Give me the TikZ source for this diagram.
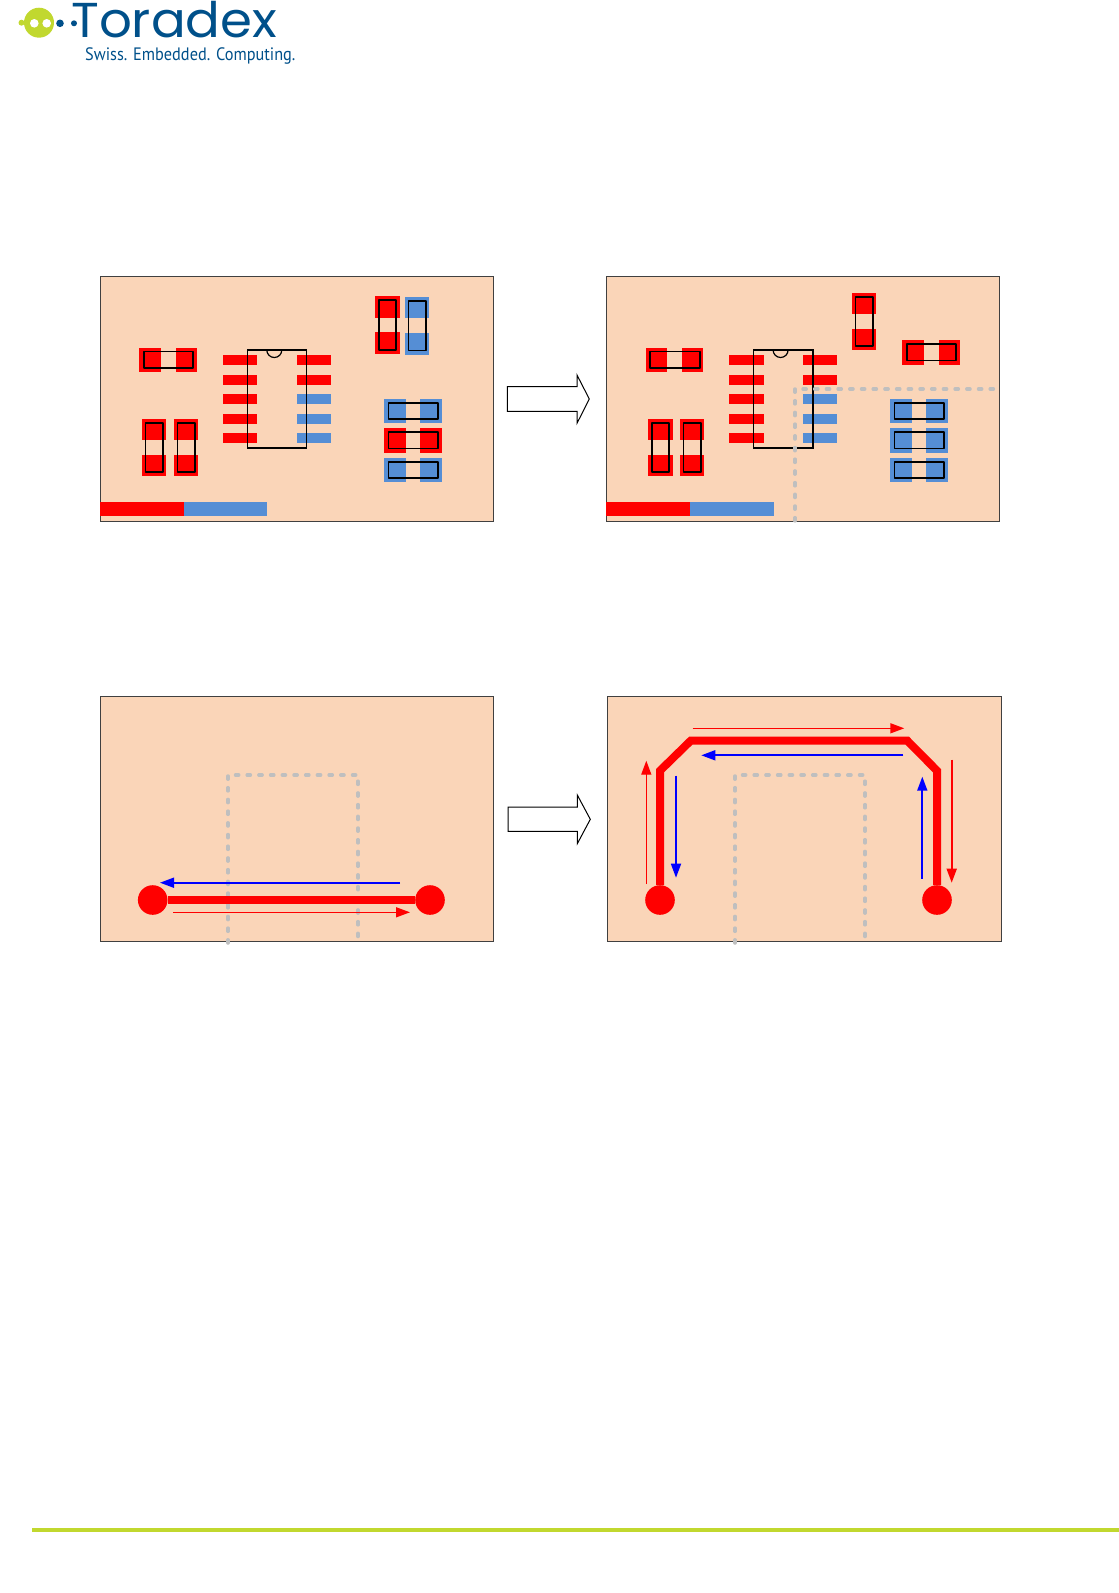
\documentclass[tikz,border=0pt]{standalone}
\usepackage{fontspec}
\setmainfont{PT Sans}
\newfontfamily\logofont{Poppins}
\usetikzlibrary{arrows.meta}
\definecolor{pcb}{HTML}{FAD5B8}
\definecolor{padblue}{HTML}{558ED5}
\definecolor{padred}{HTML}{FF0000}
\definecolor{keepout}{HTML}{BFBFBF}
\definecolor{torblue}{HTML}{00508A}
\definecolor{torgreen}{HTML}{C1D82F}
\tikzset{
  board/.style={fill=pcb,draw=black!75,line width=0.8pt},
  body/.style={draw=black,line width=1.2pt},
  partbody/.style={draw=black,line width=1.7pt,line join=round},
  bigarrow/.style={draw=black,fill=white,line width=1pt},
  keep/.style={draw=keepout,line width=3.5pt,line cap=round,dash pattern=on 3.2pt off 8.5pt},
  trace/.style={draw=padred,line width=8pt,line join=miter},
  via/.style={circle,fill=padred,inner sep=0pt,minimum size=29.6pt},
  flowr/.style={draw=padred,line width=1.4pt,-{Triangle[length=14pt,width=10pt]}},
  flowb/.style={draw=blue,line width=1.7pt,-{Triangle[length=14pt,width=10pt]}}
}
% horizontal two-pad part: left, top, colour
\newcommand{\hpart}[3]{%
  \fill[#3] (#1,#2) rectangle ++(21.7,24.3);
  \fill[#3] ({#1+36.4},#2) rectangle ++(21.3,24.3);
  \draw[partbody] ({#1+4.4},{#2+3.7}) rectangle ++(49.6,16.6);
}
% vertical two-pad part: left, top, colour
\newcommand{\vpart}[3]{%
  \fill[#3] (#1,#2) rectangle ++(24.3,21.3);
  \fill[#3] (#1,{#2+36}) rectangle ++(24.3,21.6);
  \draw[partbody] ({#1+3.4},{#2+4}) rectangle ++(17.3,49.6);
}
% IC: horizontal offset
\newcommand{\icpart}[1]{%
  \foreach \yy in {355,374.7,394,413.7,433.3}{\fill[padred] ({223+#1},\yy) rectangle ++(34.3,9.8);}
  \fill[padred] ({296.7+#1},355) rectangle ++(34.3,9.8);
  \fill[padred] ({296.7+#1},374.7) rectangle ++(34.3,9.8);
  \foreach \yy in {394,413.7,433.3}{\fill[padblue] ({296.7+#1},\yy) rectangle ++(34.3,9.8);}
  \draw[body] ({247.3+#1},350) rectangle ({306.7+#1},448);
  \draw[body] ({266.8+#1},350) arc[start angle=180,end angle=0,radius=7.5];
}
\newcommand{\flowarrow}[6]{%
  \coordinate (#1s) at (#3,#4);
  \coordinate (#1e) at (#5,#6);
  \draw[#2] (#1s) -- (#1e);
}
\begin{document}
\begin{tikzpicture}[x=1pt,y=-1pt]
\useasboundingbox (0,0) rectangle (1119,1593);
% logo
\fill[torgreen] (39,22.7) circle (15);
\fill[torgreen] (21.5,22.7) circle (3);
\fill[white] (34.3,23.3) circle (4.3);
\fill[white] (46.7,23.3) circle (4.3);
\fill[torblue] (60,23.3) circle (3.8);
\fill[torblue] (74,23.3) circle (3);
\node[anchor=base west,inner sep=0pt,text=torblue,font=\logofont\fontsize{49}{49}\selectfont] (logoname) at (71,37) {\scalebox{1.05}[1]{Toradex}};
\node[anchor=base west,inner sep=0pt,text=torblue,font=\fontsize{18}{18}\selectfont] (logotag) at (85,60) {\scalebox{.905}[1]{Swiss. Embedded. Computing.}};
% footer line
\fill[torgreen] (32,1528) rectangle (1119,1532);
% panel 1
\draw[board] (100,276.5) rectangle (493.5,521.3);
\hpart{139.3}{347.7}{padred}
\vpart{142}{418.7}{padred}
\vpart{174}{418.7}{padred}
\vpart{375.3}{296.3}{padred}
\vpart{405}{297}{padblue}
\hpart{384}{399}{padblue}
\hpart{384}{428.3}{padred}
\hpart{384}{458}{padblue}
\icpart{0}
\fill[padred] (100,502) rectangle (183.5,516.3);
\fill[padblue] (183.5,502) rectangle (267,516.3);
% arrow 1
\draw[bigarrow] (507.3,386.7) -- (577,386.7) -- (577,375) -- (589.3,399) -- (577,423.3) -- (577,411.3) -- (507.3,411.3) -- cycle;
% panel 2
\draw[board] (606.3,276.5) rectangle (999.3,521.3);
\hpart{645.7}{347.7}{padred}
\vpart{648.3}{418.7}{padred}
\vpart{680}{418.7}{padred}
\vpart{852}{292.7}{padred}
\hpart{902.3}{340.3}{padred}
\hpart{890}{399}{padblue}
\hpart{890}{428.3}{padblue}
\hpart{890}{458}{padblue}
\icpart{506.3}
\fill[padred] (606.3,502) rectangle (690,516.3);
\fill[padblue] (690,502) rectangle (773.7,516.3);
\draw[keep] (795,389) -- (795,522.7);
\draw[keep] (803,389) -- (995.7,389);
% panel 3
\draw[board] (100,696.3) rectangle (493.7,941.3);
\draw[keep] (228,943) -- (228,775) -- (358,775) -- (358,943);
\node[via] (a1) at (152.7,900) {};
\node[via] (a2) at (430,900) {};
\draw[trace] (a1) -- (a2);
\flowarrow{a3}{flowb}{400}{882.7}{160}{882.7}
\flowarrow{a4}{flowr}{173}{912.3}{410}{912.3}
% arrow 2
\draw[bigarrow] (508,807) -- (577.3,807) -- (577.3,795) -- (590.3,819.3) -- (577.3,843.7) -- (577.3,831.3) -- (508,831.3) -- cycle;
% panel 4
\draw[board] (607.3,696.3) rectangle (1001,941.3);
\draw[keep] (735,943) -- (735,775) -- (865,775) -- (865,943);
\node[via] (b1) at (660,900) {};
\node[via] (b2) at (937,900) {};
\coordinate (bc1) at (660,770.7);
\coordinate (bc2) at (690.7,740.7);
\coordinate (bc3) at (907.3,740.7);
\coordinate (bc4) at (937,770.7);
\draw[trace] (b1) -- (bc1) -- (bc2) -- (bc3) -- (bc4) -- (b2);
\flowarrow{b3}{flowr}{646.3}{884}{646.3}{760.7}
\flowarrow{b4}{flowb}{676}{775.7}{676}{877.7}
\flowarrow{b5}{flowr}{692.7}{728.3}{904.3}{728.3}
\flowarrow{b6}{flowb}{903.3}{755.3}{701.3}{755.3}
\flowarrow{b7}{flowb}{922.3}{878.7}{922.3}{776.7}
\flowarrow{b8}{flowr,line width=1.8pt}{951.7}{759.7}{951.7}{882.7}
\end{tikzpicture}
\end{document}
